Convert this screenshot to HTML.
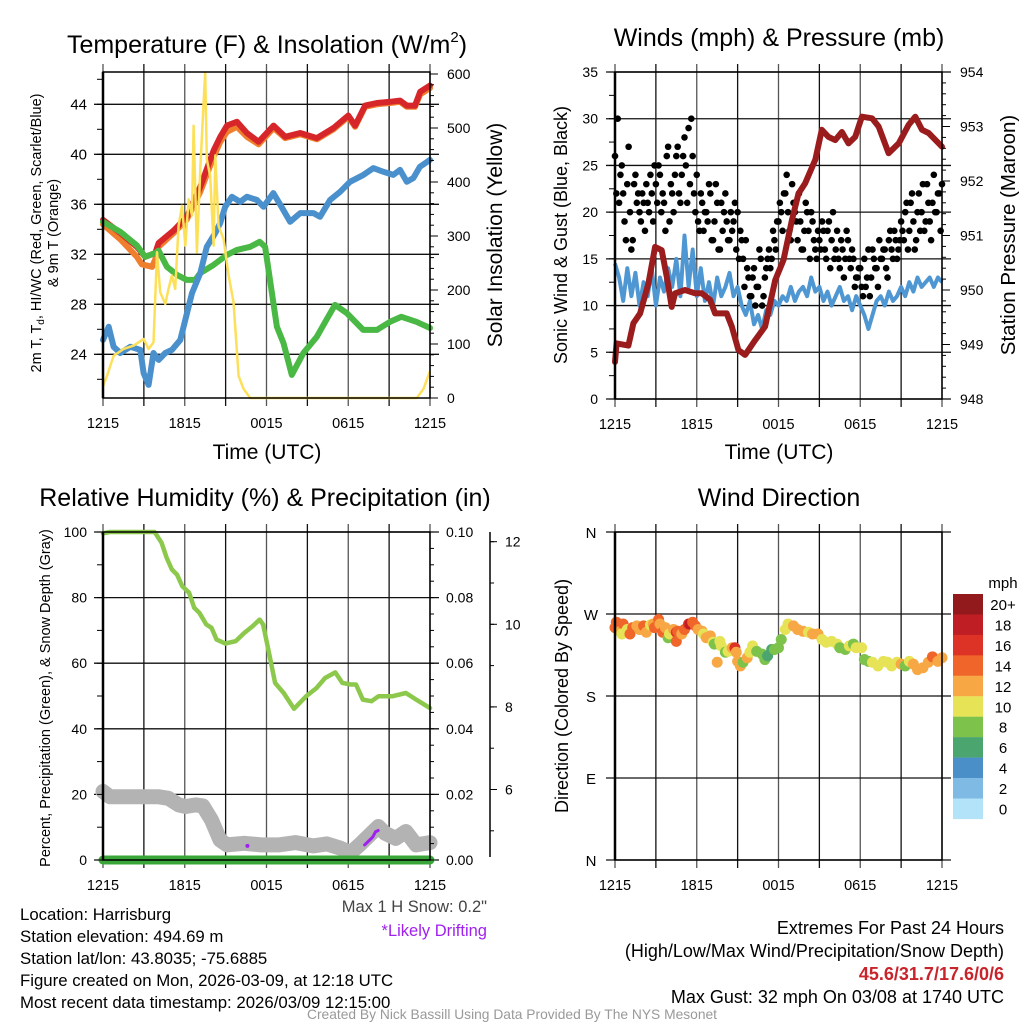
<!DOCTYPE html>
<html><head><meta charset="utf-8"><style>
html,body{margin:0;padding:0;background:#fff;}
svg{display:block;font-family:"Liberation Sans",sans-serif;}
</style></head><body>
<svg id="c" width="1024" height="1024" viewBox="0 0 1024 1024" xmlns="http://www.w3.org/2000/svg">
<rect width="1024" height="1024" fill="#fff"/>
<g id="grid"></g>
<g id="marks"></g>
<g id="axes"></g>
<g id="texts" fill="#000">
<text x="267" y="53" font-size="25" text-anchor="middle">Temperature (F) &amp; Insolation (W/m<tspan font-size="15" dy="-11">2</tspan><tspan dy="11">)</tspan></text>
<text x="779" y="46" font-size="25" text-anchor="middle">Winds (mph) &amp; Pressure (mb)</text>
<text x="265" y="506" font-size="25" text-anchor="middle">Relative Humidity (%) &amp; Precipitation (in)</text>
<text x="779" y="506" font-size="25" text-anchor="middle">Wind Direction</text>
<text x="267" y="459" font-size="21" text-anchor="middle">Time (UTC)</text>
<text x="779" y="459" font-size="21" text-anchor="middle">Time (UTC)</text>
<text transform="translate(41,233) rotate(-90)" font-size="14.5" text-anchor="middle">2m T, T<tspan font-size="10" dy="3">d</tspan><tspan dy="-3">, HI/WC (Red, Green, Scarlet/Blue)</tspan></text>
<text x="0" y="0" transform="translate(58,233) rotate(-90)" font-size="14.5" text-anchor="middle">&amp; 9m T (Orange)</text>
<text transform="translate(502,235) rotate(-90)" font-size="21" text-anchor="middle">Solar Insolation (Yellow)</text>
<text transform="translate(567,235) rotate(-90)" font-size="18" text-anchor="middle">Sonic Wind &amp; Gust (Blue, Black)</text>
<text transform="translate(1015,235) rotate(-90)" font-size="20.5" text-anchor="middle">Station Pressure (Maroon)</text>
<text transform="translate(50,698) rotate(-90)" font-size="14.5" text-anchor="middle">Percent, Precipitation (Green), &amp; Snow Depth (Gray)</text>
<text transform="translate(568,696) rotate(-90)" font-size="18" text-anchor="middle">Direction (Colored By Speed)</text>
<text x="1003" y="588" font-size="15" text-anchor="middle">mph</text>
<g font-size="16.8">
<text x="20" y="920">Location: Harrisburg</text>
<text x="20" y="942">Station elevation: 494.69 m</text>
<text x="20" y="964">Station lat/lon: 43.8035; -75.6885</text>
<text x="20" y="986">Figure created on Mon, 2026-03-09, at 12:18 UTC</text>
<text x="20" y="1008">Most recent data timestamp: 2026/03/09 12:15:00</text>
</g>
<text x="487" y="912" font-size="16.5" fill="#444" text-anchor="end">Max 1 H Snow: 0.2"</text>
<text x="487" y="936" font-size="16.5" fill="#a020f0" text-anchor="end">*Likely Drifting</text>
<g font-size="18" text-anchor="end">
<text x="1004" y="934">Extremes For Past 24 Hours</text>
<text x="1004" y="957">(High/Low/Max Wind/Precipitation/Snow Depth)</text>
<text x="1004" y="980" fill="#c8242b" font-weight="bold">45.6/31.7/17.6/0/6</text>
<text x="1004" y="1003">Max Gust: 32 mph On 03/08 at 1740 UTC</text>
</g>
<text x="512" y="1019" font-size="13.8" fill="#999" text-anchor="middle">Created By Nick Bassill Using Data Provided By The NYS Mesonet</text>
</g>
</svg>
<script>
// ---------- Panel 1 data ----------
const redT=[0,1.27,2.49,3.1,3.84,4.08,5.18,6.16,7.14,8.12,8.61,9.1,9.83,10.56,11.42,12.52,13.37,14.47,15.7,16.92,18.0,18.5,19.24,20.1,21.07,21.8,22.3,22.9,23.28,24];
const redV=[34.75,33.7,32.6,31.8,32.1,32.9,33.9,35.0,37.4,40.3,41.4,42.3,42.6,41.7,41.0,42.3,41.4,41.7,41.3,42.1,43.1,42.3,43.9,44.1,44.2,44.3,43.9,43.9,45.0,45.5];
const orgT=[0,1.27,2.49,2.85,3.6,3.84,4.08,5.18,6.16,7.14,8.12,8.61,9.1,9.83,10.56,11.42,12.52,13.37,14.47,15.7,16.92,18.0,18.5,19.24,20.1,21.07,21.8,22.3,22.9,23.28,24];
const orgV=[34.4,33.2,31.8,31.2,31.0,31.6,32.6,33.7,34.8,37.0,39.8,41.0,41.8,42.2,41.4,40.8,42.1,41.3,41.6,41.2,42.0,43.0,42.2,43.8,44.0,44.1,44.2,43.8,43.8,44.8,45.3];
const grnT=[0,1.27,2.49,3.1,3.84,4.08,4.69,5.43,6.16,6.77,7.14,8.12,9.1,9.83,10.8,11.5,11.9,12.76,13.25,13.86,14.71,15.69,16.42,17.03,17.89,19.1,20.1,21.07,21.9,23.0,24];
const grnV=[34.6,33.8,32.7,31.8,32.1,32.3,31.0,30.35,29.95,29.95,30.5,31.15,31.95,32.35,32.6,33.0,32.6,26.2,24.9,22.35,24.1,25.4,26.8,27.95,27.3,25.95,25.95,26.6,27.0,26.6,26.1];
const bluT=[0,0.42,0.78,1.27,2.0,2.74,2.98,3.35,3.71,4.08,4.57,5.06,5.67,6.04,6.53,7.14,7.62,8.24,8.6,8.97,9.46,10.07,10.56,11.29,11.78,12.5,13.1,13.73,14.47,15.45,15.93,16.67,17.4,18.13,19.11,19.84,20.58,21.31,21.8,22.3,22.78,23.26,24];
const bluV=[25.15,26.2,24.6,24.1,24.6,24.35,22.5,21.55,24.1,23.55,24.1,24.35,25.15,26.75,28.9,30.5,32.6,33.7,34.5,35.8,36.6,36.2,36.6,36.35,35.8,36.9,35.8,34.6,35.3,35.3,35.0,36.35,37.0,37.8,38.35,38.9,38.6,38.35,38.75,37.8,38.1,39.0,39.55];
const solT=[0,0.29,0.78,1.52,2.25,2.98,3.35,3.71,3.96,4.2,4.57,4.81,5.06,5.3,5.55,5.8,6.04,6.28,6.53,6.65,6.89,7.14,7.38,7.5,7.62,7.87,8.12,8.24,8.48,8.85,9.22,9.58,9.95,10.31,10.8,23.03,23.52,24];
const solV=[22,41,78,91,97,109,91,103,270,196,174,202,227,202,319,356,282,368,338,504,270,424,547,603,442,411,282,449,319,294,227,178,41,17,0,0,17,50];
const tempTicks=[24,28,32,36,40,44];
const solTicks=[0,100,200,300,400,500,600];
const timeLabels=["1215","1815","0015","0615","1215"];
// ---------- Panel 2 data ----------
const presT=[0,0.12,0.98,1.35,1.84,2.45,2.94,3.43,3.8,4.16,4.41,5.14,5.88,6.37,6.98,7.35,8.2,8.57,9.06,9.55,10.29,11.02,11.76,12.37,12.98,13.47,13.96,14.7,15.18,15.67,16.16,16.65,17.14,17.63,18.12,18.86,19.35,20.08,20.82,21.55,22.04,22.53,23.02,24];
const presV=[948.68,949.02,948.98,949.39,949.57,950.12,950.79,950.73,950.24,949.69,949.94,950.0,949.94,949.94,949.82,949.57,949.57,949.33,948.9,948.81,949.08,949.33,950.18,950.55,951.28,951.77,951.96,952.39,952.94,952.81,952.75,952.9,952.69,952.81,953.18,953.15,953.0,952.51,952.69,953.03,953.18,952.94,952.88,952.63];
const windStep=0.3;
const windV=[14.5,13,10.5,14,11,13.5,10,12.5,11,14, 10,13,11.5,14,12,15,11,17.5,12,16, 11,14,10.5,12.5,10,13,11,12,13.5,11, 12,10,9,10.5,8,9,7.5,9.5,9,10.5, 10,11,10.5,12,10.5,11.5,12,11,13,11.5, 12,10.5,11.5,10,11,12,10.5,11,9.5,11, 10,9,7.5,9,10.5,11,10,11.5,10.5,11, 12,11,12.5,11.5,13,12,12.5,13,12,13,12.5];
const gustStep=0.2;
const gustV=[26,30,24,22,17,27,16,23,21,20,22,18,21,24,19, 23,25,20,21,26,19,22,24,27,21,26,25,29,30,22, 24,18,21,20,19,22,17,23,16,21,20,19,17,18,21, 20,18,15,17,13,11,14,12,16,10,13,15,14,18,16, 19,20,22,24,18,23,20,17,19,16,21,18,20,17,15, 17,19,16,18,14,20,16,15,17,13,18,15,16,12,13, 14,11,12,16,13,15,14,17,15,16,13,18,15,17,16, 19,17,21,18,22,16,20,18,23,19,21,17,24,20,22,23];
const gustV2=[22,21,25,19,23,20,17,24,22,19,21,23,20,22,25, 21,24,22,18,27,23,20,26,22,24,28,21,23,26,20, 19,22,18,20,23,17,19,21,16,18,22,17,20,19,16, 15,17,12,14,11,13,10,12,15,11,14,16,15,17,19, 21,18,22,20,17,21,19,22,16,18,20,15,19,16,18, 16,18,15,19,17,15,18,14,16,15,17,14,15,13,14, 12,15,13,11,16,14,12,15,16,14,17,16,18,15,17, 18,20,16,21,19,17,22,20,18,23,19,21,20,22,18];
const windTicks=[0,5,10,15,20,25,30,35];
const presTicks=[948,949,950,951,952,953,954];
// ---------- Panel 3 data ----------
const rhT=[0,0.5,3.79,4.3,4.67,5.05,5.43,5.81,6.32,6.69,7.07,7.58,7.96,8.34,8.97,9.73,10.36,10.99,11.49,11.75,12.13,12.63,13.26,14.02,14.91,15.66,16.3,17.05,17.56,18.19,18.57,19.07,19.71,20.21,21.22,22.23,22.99,24];
const rhV=[99.6,100,100,96.7,92.2,88.6,87,83.5,81.5,76.9,75.4,71.8,70.8,67.2,66,66.7,69.2,71.3,73.3,71.8,64.2,54,50.9,46.1,49.9,52.4,55.5,57.2,54,53.5,53.5,48.9,48.4,49.9,49.9,50.9,48.9,46.3];
const snowT=[0,0.5,4.04,4.8,5.56,6.06,6.82,7.33,7.96,8.59,9.1,10.36,11.62,12.88,14.15,15.41,16.42,17.43,18.19,18.95,20.21,20.72,21.48,22.23,22.99,24];
const snowV=[20.9,19.3,19.3,18.8,16.8,16.3,16.8,16.5,12.2,6.1,4.6,5.1,4.6,4.6,5.3,4.3,4.9,3.6,2.2,5.1,10.2,8.1,6.6,8.7,4.6,5.3];
const driftT=[19.2,19.5,19.8,20.0,20.2];
const driftV=[4.6,5.8,7.0,8.6,9.0];
const driftDotT=[10.6];
const driftDotV=[4.3];
const precipT=[0,24];
const precipV=[0,0];
const rhTicks=[0,20,40,60,80,100];
const prTicks=["0.00","0.02","0.04","0.06","0.08","0.10"];
const snowTicks=[6,8,10,12];
// ---------- Panel 4 data ----------
const dirT=[0.0,0.1,0.4,0.6,0.5,0.9,1.1,1.3,1.6,1.8,2.1,2.3,2.6,2.8,2.9,3.2,3.3,3.5,3.7,3.9,4.0,4.3,4.5,4.6,4.5,4.9,5.1,5.4,5.5,5.7,5.9,6.1,6.4,6.5,6.7,7.0,7.2,7.3,7.5,7.7,7.8,8.1,8.3,8.6,8.8,8.9,9.0,9.2,9.4,9.7,9.9,10.1,10.4,10.8,11.0,11.2,11.5,11.7,12.0,12.2,12.5,12.7,13.1,13.4,13.8,14.2,14.5,14.9,15.2,15.5,15.9,16.3,16.5,16.9,17.2,17.5,17.7,18.1,18.3,18.6,18.9,19.3,19.7,20.0,20.3,20.7,21.0,21.3,21.6,21.9,22.2,22.6,23.0,23.3,23.7,24.0];
const dirV=[255,261,251,259,248,253,248,255,257,253,257,250,258,259,255,264,259,250,255,244,248,253,250,251,240,248,253,259,259,261,257,253,251,248,244,246,239,237,217,240,235,228,229,233,233,228,218,213,217,222,228,235,229,226,220,224,231,231,233,242,253,259,257,253,251,250,248,248,242,239,240,237,233,231,235,237,233,233,220,218,217,213,218,217,213,217,215,213,218,215,209,211,217,223,218,222];
const dirSpd=[14,14,12,14,10,10,14,14,12,12,14,12,10,12,14,14,12,14,12,8,10,12,16,14,14,12,14,16,18,14,14,12,12,10,12,12,10,8,12,10,10,8,10,12,16,12,12,12,8,12,10,10,8,8,8,6,6,8,8,8,10,10,12,12,12,10,12,12,10,10,10,10,8,8,10,8,10,10,8,8,10,10,10,10,10,10,12,8,10,12,12,12,12,14,12,12];
const dirLabels=["N","E","S","W","N"];
const cbLabels=["20+","18","16","14","12","10","8","6","4","2","0"];
const cbColors=["#921a1d","#be1e24","#dd3327","#f0652a","#f7a845","#e6e356","#7dc24a","#4aa56e","#4a8fc7","#7fbae4","#b3e3f8"];

const NS="http://www.w3.org/2000/svg";
const G=document.getElementById('grid'),M=document.getElementById('marks'),A=document.getElementById('axes');
function mk(tag,parent,attrs){const e=document.createElementNS(NS,tag);for(const k in attrs)e.setAttribute(k,attrs[k]);parent.appendChild(e);return e;}
const P1={l:103,r:430,t:72,b:398},P2={l:615,r:942,t:72,b:399},P3={l:103,r:430,t:532,b:860},P4={l:615,r:942,t:532,b:860};
const xs=P=>t=>P.l+t*(P.r-P.l)/24;
const x1=xs(P1),x2=xs(P2),x3=xs(P3),x4=xs(P4);
const yT=v=>104.3+(44-v)*12.5;
const yS=w=>398-w*0.54;
const yW=m=>399-m*(327/35);
const yP=p=>399-(p-948)*(327/6);
const yRH=v=>860-v*3.28;
const ySn=s=>541.7+(12-s)*41.3;
const yD=d=>860-d*328/360;

function pathD(T,V,xf,yf){return T.map((t,i)=>(i?'L':'M')+xf(t).toFixed(1)+','+yf(V[i]).toFixed(1)).join('');}

function frame(P,name,hvals,yf){
  for(let h=0;h<=24;h+=3){const x=xs(P)(h);
    const ln=mk('line',G,{x1:x,x2:x,y1:P.t-8,y2:P.b+8,stroke:(h%6===0)?'#555':'#111','stroke-width':1.3});
    
    }
  hvals.forEach(v=>{const y=yf(v);
    const ln=mk('line',G,{x1:P.l-9,x2:P.r+9,y1:y,y2:y,stroke:'#111','stroke-width':1.3});
    
    });
  const r=mk('rect',A,{x:P.l,y:P.t,width:P.r-P.l,height:P.b-P.t,fill:'none',stroke:'#000','stroke-width':1.5});
  
  
  const la=mk('line',A,{x1:P.l,x2:P.l,y1:P.t,y2:P.b,stroke:'#000','stroke-width':2.5});
  
  
}
function label(x,y,txt,anchor,size,name,color){const e=mk('text',A,{x:x,y:y,'font-size':size||14,'text-anchor':anchor||'middle',fill:color||'#000'});e.textContent=txt;
  
  return e;}
function tick(x1_,y1_,x2_,y2_,name){const e=mk('line',A,{x1:x1_,y1:y1_,x2:x2_,y2:y2_,stroke:'#000','stroke-width':1});
  
  }
function xlabels(P,name){timeLabels.forEach((s,i)=>label(xs(P)(i*6),P.b+30,s,'middle',14.5,name+'-x-tick-label'));}

// ---- Panel 1 ----
frame(P1,'temp-panel',tempTicks,yT);
tempTicks.forEach(v=>label(P1.l-16,yT(v)+5,String(v),'end',15,'temp-y-tick-label'));
for(let v=22;v<=46;v+=2){tick(P1.l-6,yT(v),P1.l,yT(v),'temp-minor-tick');}
solTicks.forEach(v=>{label(P1.r+17,yS(v)+5,String(v),'start',14,'solar-y-tick-label');tick(P1.r,yS(v),P1.r+8,yS(v),'solar-major-tick');});
for(let v=0;v<=600;v+=20)tick(P1.r,yS(v),P1.r+4,yS(v),'solar-minor-tick');
xlabels(P1,'temp');
[['temp-9m-orange',orgT,orgV,'#f07f2d'],['temp-2m-red',redT,redV,'#d7262a'],['dewpoint-green',grnT,grnV,'#4ab844'],['hiwc-blue',bluT,bluV,'#4a90cc']].forEach(s=>{
  const p=mk('path',M,{d:pathD(s[1],s[2],x1,yT),fill:'none',stroke:s[3],'stroke-width':6,'stroke-linejoin':'round','stroke-linecap':'round'});
  
  });
const sol=mk('path',M,{d:pathD(solT,solV,x1,yS),fill:'none',stroke:'#fde05a','stroke-width':2.5,'stroke-linejoin':'round'});



// ---- Panel 2 ----
frame(P2,'wind-panel',windTicks,yW);
windTicks.forEach(v=>label(P2.l-17,yW(v)+5,String(v),'end',14,'wind-y-tick-label'));
for(let v=0;v<=35;v+=2.5)tick(P2.l-6,yW(v),P2.l,yW(v),'wind-minor-tick');
presTicks.forEach(v=>{label(P2.r+18,yP(v)+5,String(v),'start',14,'pressure-y-tick-label');tick(P2.r,yP(v),P2.r+8,yP(v),'pressure-major-tick');});
for(let v=948;v<=954;v+=0.2)tick(P2.r,yP(v),P2.r+4,yP(v),'pressure-minor-tick');
xlabels(P2,'wind');
const wp=mk('path',M,{d:pathD(windV.map((v,i)=>i*windStep),windV,x2,yW),fill:'none',stroke:'#4f97d2','stroke-width':4,'stroke-linejoin':'round'});


gustV.forEach((v,i)=>{const c=mk('circle',M,{cx:x2(i*gustStep),cy:yW(v),r:3.3,fill:'#000'});
  
  });
gustV2.forEach((v,i)=>{const c=mk('circle',M,{cx:x2(0.1+i*gustStep),cy:yW(v),r:3.3,fill:'#000'});
  
  });
const pp=mk('path',M,{d:pathD(presT,presV,x2,yP),fill:'none',stroke:'#9b1c1c','stroke-width':6,'stroke-linejoin':'round','stroke-linecap':'round'});



// ---- Panel 3 ----
frame(P3,'humidity-panel',rhTicks,yRH);
rhTicks.forEach(v=>label(P3.l-16,yRH(v)+5,String(v),'end',14,'humidity-y-tick-label'));
for(let v=0;v<=100;v+=10)tick(P3.l-6,yRH(v),P3.l,yRH(v),'humidity-minor-tick');
prTicks.forEach((s,i)=>label(P3.r+16,yRH(i*20)+5,s,'start',14,'precip-y-tick-label'));
for(let v=0;v<=100;v+=5)tick(P3.r,yRH(v),P3.r+4,yRH(v),'precip-minor-tick');
const sax=mk('line',A,{x1:490,x2:490,y1:532,y2:857,stroke:'#000','stroke-width':1.5});


snowTicks.forEach(v=>{label(505,ySn(v)+5,String(v),'start',14,'snow-y-tick-label');tick(490,ySn(v),497,ySn(v),'snow-major-tick');});
for(let v=5;v<=12;v+=1)tick(490,ySn(v),494,ySn(v),'snow-minor-tick');
xlabels(P3,'humidity');
const sp=mk('path',M,{d:pathD(snowT,snowV,x3,yRH),fill:'none',stroke:'#b3b3b3','stroke-width':15,'stroke-linejoin':'round','stroke-linecap':'round'});


const prp=mk('path',M,{d:pathD(precipT,precipV,x3,yRH),fill:'none',stroke:'#3aa63a','stroke-width':9,'stroke-linecap':'round'});


const rp=mk('path',M,{d:pathD(rhT,rhV,x3,yRH),fill:'none',stroke:'#8cc84b','stroke-width':4.5,'stroke-linejoin':'round','stroke-linecap':'round'});


const dp=mk('path',M,{d:pathD(driftT,driftV,x3,yRH),fill:'none',stroke:'#a020f0','stroke-width':3,'stroke-linecap':'round'});


driftDotT.forEach((t,i)=>{const c=mk('circle',M,{cx:x3(t),cy:yRH(driftDotV[i]),r:2,fill:'#a020f0'});
  
  });

// ---- Panel 4 ----
frame(P4,'direction-panel',[0,90,180,270,360],yD);
dirLabels.forEach((s,i)=>label(P4.l-24,yD(i*90)+6,s,'middle',15,'direction-y-tick-label'));
xlabels(P4,'direction');
function spdColor(s){const idx=Math.max(0,Math.min(10,10-Math.floor(s/2)));return cbColors[idx];}
dirT.forEach((t,i)=>{const c=mk('circle',M,{cx:x4(t),cy:yD(dirV[i]),r:5.5,fill:spdColor(dirSpd[i])});
  
  });
cbColors.forEach((col,i)=>{const y=594+i*20.45;
  const r=mk('rect',A,{x:953,y:y,width:30,height:20.6,fill:col});
  
  
  label(1003,y+16,cbLabels[i],'middle',15,'colorbar-label');});
</script>
</body></html>
